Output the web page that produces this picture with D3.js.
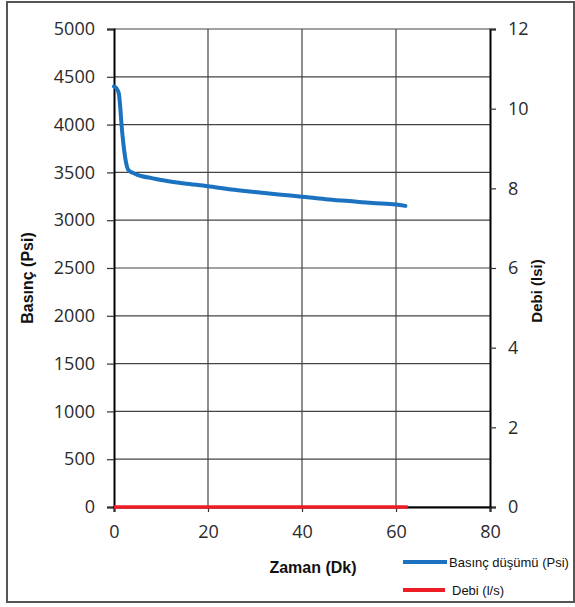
<!DOCTYPE html>
<html><head><meta charset="utf-8">
<script src="https://cdn.jsdelivr.net/npm/d3@7/dist/d3.min.js"></script>
<style>body{margin:0;background:#fff}svg{display:block}</style>
</head><body>
<script>
const timeMin = [0,0.5,1.0,1.3,1.6,2.0,2.5,3.0,4,5,6,8,10,15,20,25,30,35,40,45,50,55,60,62];
const pressurePsi = [4400,4380,4330,4200,4000,3800,3620,3530,3495,3475,3460,3440,3420,3385,3355,3320,3295,3270,3245,3220,3200,3180,3165,3150];
const flowTime = [0,62.5];
const flowLs = [0,0];
const xTicks = [0,20,40,60,80];
const yLeftTicks = [0,500,1000,1500,2000,2500,3000,3500,4000,4500,5000];
const yRightTicks = [0,2,4,6,8,10,12];
const seriesNames = ["Basınç düşümü (Psi)","Debi (l/s)"];
const seriesColors = ["#1a72c0","#ee1c25"];

const W=575,H=607;
const svg=d3.select("body").append("svg").attr("width",W).attr("height",H);
svg.append("rect").attr("x",7).attr("y",2).attr("width",567).attr("height",600)
  .attr("fill","#fff").attr("stroke","#555").attr("stroke-width",2);

const L=114,R=490,T=29,B=507;
const x=d3.scaleLinear().domain([0,80]).range([L,R]);
const yL=d3.scaleLinear().domain([0,5000]).range([B,T]);
const yR=d3.scaleLinear().domain([0,12]).range([B,T]);

// grid
const g=svg.append("g");
g.selectAll(".hg").data(yLeftTicks).enter().append("line")
  .attr("x1",L).attr("x2",R).attr("y1",d=>yL(d)).attr("y2",d=>yL(d))
  .attr("stroke","#444").attr("stroke-width",1.2);
g.selectAll(".vg").data(xTicks.slice(1,-1)).enter().append("line")
  .attr("x1",d=>x(d)).attr("x2",d=>x(d)).attr("y1",T).attr("y2",B)
  .attr("stroke","#444").attr("stroke-width",1.2);

const tickFont='"Open Sans", sans-serif';
// axes
const axL=svg.append("g").attr("transform",`translate(${L},0)`)
  .call(d3.axisLeft(yL).tickValues(yLeftTicks).tickSize(7).tickPadding(12).tickFormat(d3.format("d")));
const axR=svg.append("g").attr("transform",`translate(${R},0)`)
  .call(d3.axisRight(yR).tickValues(yRightTicks).tickSize(6).tickPadding(12).tickFormat(d3.format("d")));
const axB=svg.append("g").attr("transform",`translate(0,${B})`)
  .call(d3.axisBottom(x).tickValues(xTicks).tickSize(5).tickPadding(11).tickFormat(d3.format("d")));
[axL,axR,axB].forEach(a=>{
  a.select(".domain").attr("stroke","#000").attr("stroke-width",2);
  a.selectAll(".tick line").attr("stroke","#333").attr("stroke-width",1.2);
  a.selectAll(".tick text").attr("font-family",tickFont).attr("font-size",18).attr("fill","#2a2a2a");
});
axB.selectAll(".tick text").attr("dy","0.85em");

// series
const lineP=d3.line().x((d,i)=>x(timeMin[i])).y(d=>yL(d)).curve(d3.curveMonotoneX);
svg.append("path").datum(pressurePsi).attr("d",lineP).attr("fill","none")
  .attr("stroke",seriesColors[0]).attr("stroke-width",4).attr("stroke-linecap","round").attr("stroke-linejoin","round");
const lineF=d3.line().x((d,i)=>x(flowTime[i])).y(d=>yR(d));
svg.append("path").datum(flowLs).attr("d",lineF).attr("fill","none")
  .attr("stroke",seriesColors[1]).attr("stroke-width",3.5);

// axis titles
const titleFont='"Liberation Sans", Arial, sans-serif';
svg.append("text").attr("transform","translate(33,278) rotate(-90)").attr("text-anchor","middle")
  .attr("font-family",titleFont).attr("font-weight","bold").attr("font-size",16).attr("fill","#111").text("Basınç (Psi)");
svg.append("text").attr("transform","translate(542,291) rotate(-90)").attr("text-anchor","middle")
  .attr("font-family",titleFont).attr("font-weight","bold").attr("font-size",15).attr("fill","#111").text("Debi (lsi)");
svg.append("text").attr("x",313).attr("y",573).attr("text-anchor","middle")
  .attr("font-family",titleFont).attr("font-weight","bold").attr("font-size",16).attr("fill","#111").text("Zaman (Dk)");

// legend
const leg=[{y:562,tx:449,x2:447},{y:590,tx:452,x2:445}];
seriesNames.forEach((n,i)=>{
  svg.append("line").attr("x1",403).attr("x2",leg[i].x2).attr("y1",leg[i].y).attr("y2",leg[i].y)
    .attr("stroke",seriesColors[i]).attr("stroke-width",4);
  svg.append("text").attr("x",leg[i].tx).attr("y",leg[i].y+4.5).attr("font-family",titleFont)
    .attr("font-size",13).attr("fill","#111").text(n);
});
</script>
</body></html>
